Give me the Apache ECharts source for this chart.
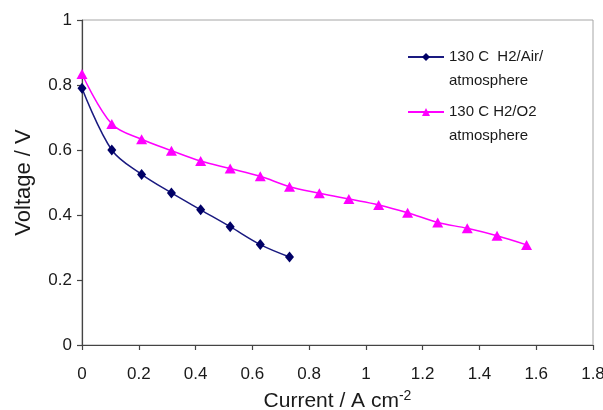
<!DOCTYPE html>
<html>
<head>
<meta charset="utf-8">
<script src="https://cdn.jsdelivr.net/npm/echarts@6/dist/echarts.min.js"></script>
<style>
  html, body { margin: 0; padding: 0; background: #fff; }
  #chart { width: 603px; height: 410px; }
</style>
</head>
<body>
<div id="chart"></div>
<script>
// Polarisation curves at 130 C
const airName = '130 C  H2/Air/\natmosphere';
const o2Name = '130 C H2/O2\natmosphere';

const airCurrent = [0, 0.105, 0.21, 0.315, 0.418, 0.522, 0.628, 0.731];
const airVoltage = [0.79, 0.60, 0.525, 0.468, 0.416, 0.364, 0.309, 0.271];

const o2Current = [0, 0.105, 0.21, 0.315, 0.418, 0.522, 0.628, 0.731,
                   0.836, 0.94, 1.045, 1.147, 1.253, 1.357, 1.462, 1.566];
const o2Voltage = [0.834, 0.68, 0.633, 0.598, 0.566, 0.543, 0.519, 0.487,
                   0.467, 0.449, 0.431, 0.407, 0.377, 0.359, 0.336, 0.308];

const xTicks = [0, 0.2, 0.4, 0.6, 0.8, 1, 1.2, 1.4, 1.6, 1.8];
const yTicks = [0, 0.2, 0.4, 0.6, 0.8, 1];

const pairs = (xs, ys) => xs.map((x, i) => [x, ys[i]]);
const FONT = '"Liberation Sans", Arial, sans-serif';

const chart = echarts.init(document.getElementById('chart'), null, { renderer: 'canvas' });

chart.setOption({
  animation: false,
  backgroundColor: '#ffffff',
  textStyle: { fontFamily: FONT },
  grid: {
    left: 82, top: 20, right: 10, bottom: 65,
    outerBoundsMode: 'none',
    containLabel: false,
    show: true, borderColor: '#a6a6a6', borderWidth: 1, backgroundColor: 'transparent'
  },
  legend: {
    orient: 'vertical',
    left: 407,
    top: 21,
    padding: 0,
    itemGap: -17,
    itemWidth: 36,
    itemHeight: 10,
    selectedMode: false,
    // a leading blank line keeps the symbol level with the first line of each entry
    formatter: name => '\n' + name,
    textStyle: { fontFamily: FONT, fontSize: 15, color: '#1a1a1a', lineHeight: 24 },
    data: [airName, o2Name]
  },
  xAxis: {
    type: 'value',
    min: xTicks[0], max: xTicks[xTicks.length - 1], interval: 0.2,
    name: 'Current / A cm{sup|-2}',
    nameLocation: 'middle',
    nameGap: 44,
    nameTextStyle: {
      fontFamily: FONT, fontSize: 21, color: '#1a1a1a',
      rich: { sup: { fontFamily: FONT, fontSize: 14, color: '#1a1a1a', verticalAlign: 'top', padding: [0, 0, 10, 0] } }
    },
    axisLine: { show: true, onZero: false, lineStyle: { color: '#444', width: 1.2 } },
    axisTick: { show: true, inside: false, length: 5, lineStyle: { color: '#444', width: 1.2 } },
    axisLabel: { fontFamily: FONT, fontSize: 17, color: '#1a1a1a', margin: 21,
      formatter: v => String(Math.round(v * 10) / 10) },
    splitLine: { show: false }
  },
  yAxis: {
    type: 'value',
    min: yTicks[0], max: yTicks[yTicks.length - 1], interval: 0.2,
    name: 'Voltage / V',
    nameLocation: 'middle',
    nameGap: 47,
    nameTextStyle: { fontFamily: FONT, fontSize: 22, color: '#1a1a1a' },
    axisLine: { show: true, onZero: false, lineStyle: { color: '#444', width: 1.2 } },
    axisTick: { show: true, inside: false, length: 5, lineStyle: { color: '#444', width: 1.2 } },
    axisLabel: { fontFamily: FONT, fontSize: 17, color: '#1a1a1a', margin: 10,
      formatter: v => String(Math.round(v * 10) / 10) },
    splitLine: { show: false }
  },
  series: [
    {
      name: airName,
      type: 'line',
      data: pairs(airCurrent, airVoltage),
      smooth: 0.35,
      symbol: 'diamond',
      symbolSize: [9, 11],
      showAllSymbol: true,
      lineStyle: { color: '#1a1a80', width: 1.5 },
      itemStyle: { color: '#000066', borderWidth: 0 },
      z: 3
    },
    {
      name: o2Name,
      type: 'line',
      data: pairs(o2Current, o2Voltage),
      smooth: 0.35,
      symbol: 'triangle',
      symbolSize: [11, 10],
      showAllSymbol: true,
      lineStyle: { color: '#ff00ff', width: 1.5 },
      itemStyle: { color: '#ff00ff', borderWidth: 0 },
      z: 2
    }
  ]
});
</script>
</body>
</html>
